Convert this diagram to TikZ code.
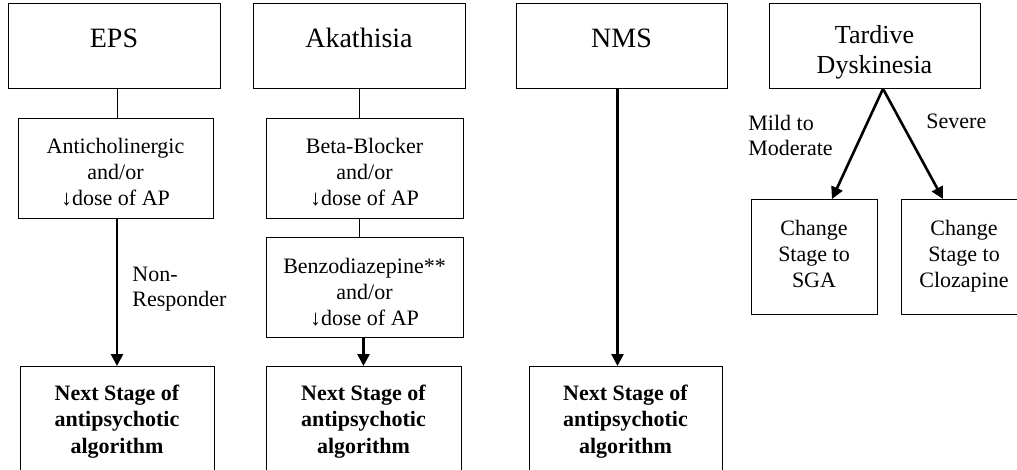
\documentclass[tikz,border=0pt]{standalone}
\usepackage{fontspec}
\setmainfont{Liberation Serif}
\usetikzlibrary{arrows.meta}

\begin{document}
\begin{tikzpicture}[x=1pt, y=-1pt, line width=0.8pt,
        every node/.append style={inner sep=0pt, align=center}]
      \tikzstyle{box} = [draw, anchor=north, font=\fontsize{22}{26}\selectfont]
      \tikzstyle{head} = [box, minimum width=212pt, text height=44pt, text depth=41pt, font=\fontsize{28}{32}\selectfont]
      \tikzstyle{next} = [box, text height=87pt, text depth=27pt, font=\bfseries\fontsize{22}{26.5}\selectfont]
      \tikzstyle{word} = [anchor=base west, align=left, font=\fontsize{22}{25}\selectfont]
      \tikzstyle{link} = [line width=0.8pt]
      \tikzstyle{flow} = [line width=2.6pt, -{Triangle[width=12pt,length=12pt]}]
      \clip (0,0) rectangle (1017,469);
      \node (EPS) [head] at (114,3) {EPS};
      \node (Akathisia) [head] at (359,3) {Akathisia};
      \node (NMS) [head, minimum width=211pt] at (621.5,3) {NMS};
      \node (TD) [head, minimum width=211pt, text height=70pt, text depth=15pt, font=\fontsize{26}{30}\selectfont] at (874.5,3) {Tardive\\Dyskinesia};
      \node (Anticholinergic) [box, minimum width=195pt, text height=87pt, text depth=13pt] at (115.5,118) {Anticholinergic\\and/or\\↓dose of AP};
      \node (BetaBlocker) [box, minimum width=197pt, text height=87pt, text depth=13pt] at (364.5,118) {Beta-Blocker\\and/or\\↓dose of AP};
      \node (Benzo) [box, minimum width=197pt, text height=88pt, text depth=12pt] at (364.5,237) {Benzodiazepine**\\and/or\\↓dose of AP};
      \node (NextEPS) [next, minimum width=194pt] at (117,366) {Next Stage of\\antipsychotic\\algorithm};
      \node (NextAka) [next, minimum width=195pt] at (363.5,366) {Next Stage of\\antipsychotic\\algorithm};
      \node (NextNMS) [next, minimum width=193pt] at (625.5,366) {Next Stage of\\antipsychotic\\algorithm};
      \node (SGA) [box, minimum width=126pt, text height=88pt, text depth=27pt] at (814,199) {Change\\Stage to\\SGA};
      \node (Clozapine) [box, minimum width=126pt, text height=88pt, text depth=27pt] at (964,199) {Change\\Stage to\\Clozapine};
      \node (NonResp) [word] at (132,306) {Non-\\Responder};
      \node (Mild) [word] at (748,155) {Mild to\\Moderate};
      \node (Severe) [word] at (926,128) {Severe};
      \draw[link] (EPS.south -| NextEPS.north) -- (Anticholinergic.north -| NextEPS.north);
      \draw[flow] (Anticholinergic.south -| NextEPS.north) -- (NextEPS.north);
      \draw[link] (Akathisia.south) -- (Akathisia.south |- BetaBlocker.north);
      \draw[link] (Akathisia.south |- BetaBlocker.south) -- (Akathisia.south |- Benzo.north);
      \draw[flow] (Benzo.south -| NextAka.north) -- (NextAka.north);
      \draw[flow] ([xshift=-4pt]NMS.south) -- ([xshift=-4pt]NMS.south |- NextNMS.north);
      \draw[flow] ([xshift=8.5pt]TD.south) -- ([xshift=18pt]SGA.north);
      \draw[flow] ([xshift=8.5pt]TD.south) -- ([xshift=-21pt]Clozapine.north);
    \end{tikzpicture}
\end{document}
